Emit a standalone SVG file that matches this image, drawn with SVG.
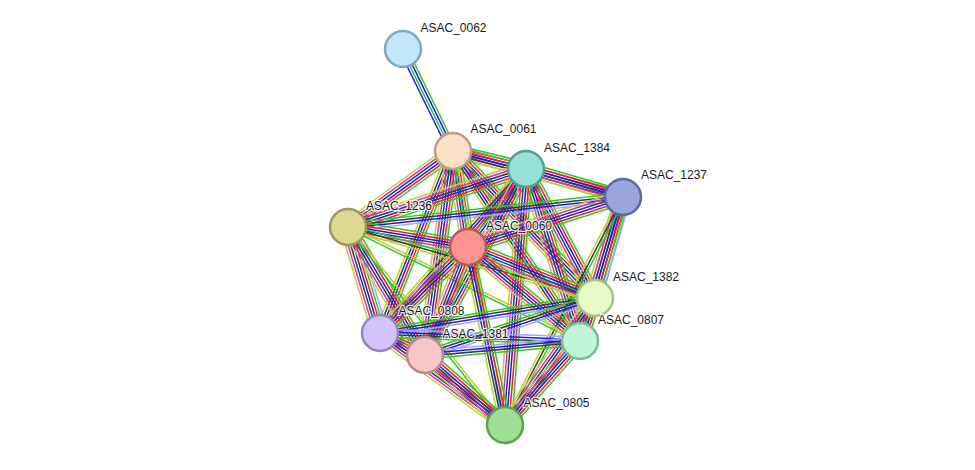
<svg xmlns="http://www.w3.org/2000/svg" width="975" height="470" viewBox="0 0 975 470">
<style>
.e line{stroke-width:1.5;fill:none}
.g{stroke:#33c433}.r{stroke:#ff1a1a}.b{stroke:#1a1aee}.k{stroke:#3a3a3a}.m{stroke:#cc33cc}.y{stroke:#bfce33}.l{stroke:#a3a3ff}
.n circle{stroke-width:2.5}
text{font-family:"Liberation Sans",Arial,sans-serif;font-size:12px;fill:#1a1a1a;stroke:#fff;stroke-width:2.5;stroke-opacity:0.85;paint-order:stroke;stroke-linejoin:round}
</style>
<defs>
<g id="AB" class="e"><line x1="0" y1="-3.9" x2="1" y2="-3.9" class="g"/><line x1="0" y1="-1.3" x2="1" y2="-1.3" class="b"/><line x1="0" y1="1.3" x2="1" y2="1.3" class="g"/><line x1="0" y1="3.9" x2="1" y2="3.9" class="b"/></g>
<g id="T7" class="e"><line x1="0" y1="-7.8" x2="1" y2="-7.8" class="l"/><line x1="0" y1="-5.2" x2="1" y2="-5.2" class="g"/><line x1="0" y1="-2.6" x2="1" y2="-2.6" class="r"/><line x1="0" y1="0" x2="1" y2="0" class="b"/><line x1="0" y1="2.6" x2="1" y2="2.6" class="k"/><line x1="0" y1="5.2" x2="1" y2="5.2" class="m"/><line x1="0" y1="7.8" x2="1" y2="7.8" class="y"/></g>
<g id="T6" class="e"><line x1="0" y1="-6.5" x2="1" y2="-6.5" class="g"/><line x1="0" y1="-3.9" x2="1" y2="-3.9" class="r"/><line x1="0" y1="-1.3" x2="1" y2="-1.3" class="b"/><line x1="0" y1="1.3" x2="1" y2="1.3" class="k"/><line x1="0" y1="3.9" x2="1" y2="3.9" class="m"/><line x1="0" y1="6.5" x2="1" y2="6.5" class="y"/></g>
<g id="T5" class="e"><line x1="0" y1="-5.2" x2="1" y2="-5.2" class="g"/><line x1="0" y1="-2.6" x2="1" y2="-2.6" class="r"/><line x1="0" y1="0" x2="1" y2="0" class="b"/><line x1="0" y1="2.6" x2="1" y2="2.6" class="k"/><line x1="0" y1="5.2" x2="1" y2="5.2" class="y"/></g>
<g id="T4h" class="e"><line x1="0" y1="-3.9" x2="1" y2="-3.9" class="l"/><line x1="0" y1="-1.3" x2="1" y2="-1.3" class="b"/><line x1="0" y1="1.3" x2="1" y2="1.3" class="k"/><line x1="0" y1="3.9" x2="1" y2="3.9" class="g"/></g>
<g id="T3" class="e"><line x1="0" y1="-2.6" x2="1" y2="-2.6" class="g"/><line x1="0" y1="0" x2="1" y2="0" class="k"/><line x1="0" y1="2.6" x2="1" y2="2.6" class="y"/></g>
<g id="T2" class="e"><line x1="0" y1="-1.3" x2="1" y2="-1.3" class="y"/><line x1="0" y1="1.3" x2="1" y2="1.3" class="g"/></g>
</defs>
<rect width="975" height="470" fill="#fff"/>
<g id="connectors">
<use href="#AB" transform="matrix(50,102,-0.898,0.440,403,49)"/>
<use href="#T6" transform="matrix(73,18,-0.239,0.971,453,151)"/>
<use href="#T5" transform="matrix(170,46,-0.261,0.965,453,151)"/>
<use href="#T6" transform="matrix(-105,76,-0.586,-0.810,453,151)"/>
<use href="#T6" transform="matrix(15,96,-0.988,0.154,453,151)"/>
<use href="#T6" transform="matrix(142,147,-0.719,0.695,453,151)"/>
<use href="#T5" transform="matrix(-73,182,-0.928,-0.372,453,151)"/>
<use href="#T6" transform="matrix(-28,204,-0.991,-0.136,453,151)"/>
<use href="#T5" transform="matrix(127,190,-0.831,0.556,453,151)"/>
<use href="#T2" transform="matrix(52,274,-0.982,0.186,453,151)"/>
<use href="#T6" transform="matrix(97,28,-0.277,0.961,526,169)"/>
<use href="#T6" transform="matrix(-178,58,-0.310,-0.951,526,169)"/>
<use href="#T6" transform="matrix(-58,78,-0.802,-0.597,526,169)"/>
<use href="#T6" transform="matrix(69,129,-0.882,0.472,526,169)"/>
<use href="#T5" transform="matrix(-146,164,-0.747,-0.665,526,169)"/>
<use href="#T6" transform="matrix(-101,186,-0.879,-0.477,526,169)"/>
<use href="#T6" transform="matrix(54,172,-0.954,0.300,526,169)"/>
<use href="#T6" transform="matrix(-21,256,-0.997,-0.082,526,169)"/>
<use href="#T4h" transform="matrix(-275,30,-0.108,-0.994,623,197)"/>
<use href="#T6" transform="matrix(-155,50,-0.307,-0.952,623,197)"/>
<use href="#T6" transform="matrix(-28,101,-0.964,-0.267,623,197)"/>
<use href="#T7" transform="matrix(-43,144,-0.958,-0.286,623,197)"/>
<use href="#T3" transform="matrix(-118,228,-0.888,-0.460,623,197)"/>
<use href="#T6" transform="matrix(120,20,-0.164,0.986,348,227)"/>
<use href="#T3" transform="matrix(247,71,-0.276,0.961,348,227)"/>
<use href="#T7" transform="matrix(32,106,-0.957,0.289,348,227)"/>
<use href="#T6" transform="matrix(77,128,-0.857,0.515,348,227)"/>
<use href="#T2" transform="matrix(232,114,-0.441,0.897,348,227)"/>
<use href="#T2" transform="matrix(157,198,-0.784,0.621,348,227)"/>
<use href="#T6" transform="matrix(127,51,-0.373,0.928,468,247)"/>
<use href="#T6" transform="matrix(-88,86,-0.699,-0.715,468,247)"/>
<use href="#T6" transform="matrix(-43,108,-0.929,-0.370,468,247)"/>
<use href="#T6" transform="matrix(112,94,-0.643,0.766,468,247)"/>
<use href="#T5" transform="matrix(37,178,-0.979,0.204,468,247)"/>
<use href="#T4h" transform="matrix(-215,35,-0.161,-0.987,595,298)"/>
<use href="#T4h" transform="matrix(-170,57,-0.318,-0.948,595,298)"/>
<use href="#T6" transform="matrix(-15,43,-0.945,-0.330,595,298)"/>
<use href="#T6" transform="matrix(-90,127,-0.816,-0.578,595,298)"/>
<use href="#T6" transform="matrix(45,22,-0.439,0.898,380,333)"/>
<use href="#T4h" transform="matrix(200,8,-0.040,0.999,380,333)"/>
<use href="#T6" transform="matrix(125,92,-0.593,0.805,380,333)"/>
<use href="#T4h" transform="matrix(155,-14,0.090,0.996,425,355)"/>
<use href="#T6" transform="matrix(80,70,-0.659,0.753,425,355)"/>
<use href="#T6" transform="matrix(-75,84,-0.746,-0.666,580,341)"/>
</g>
<g id="ASAC_0062" class="n"><circle cx="403" cy="49" r="18" fill="#c4e6fc" stroke="#80a8c0"/><text x="420.5" y="32">ASAC_0062</text></g>
<g id="ASAC_0061" class="n"><circle cx="453" cy="151" r="18" fill="#fde1c6" stroke="#bc9e80"/><text x="470.5" y="133">ASAC_0061</text></g>
<g id="ASAC_1384" class="n"><circle cx="526" cy="169" r="18" fill="#98dfd6" stroke="#5a9c94"/><text x="544" y="152">ASAC_1384</text></g>
<g id="ASAC_1237" class="n"><circle cx="623" cy="197" r="18" fill="#9aa5de" stroke="#5c67a3"/><text x="641" y="179">ASAC_1237</text></g>
<g id="ASAC_1236" class="n"><circle cx="348" cy="227" r="18" fill="#dcd993" stroke="#9c985a"/><text x="366" y="210">ASAC_1236</text></g>
<g id="ASAC_0060" class="n"><circle cx="468" cy="247" r="18" fill="#ff9494" stroke="#b85858"/><text x="486" y="230">ASAC_0060</text></g>
<g id="ASAC_1382" class="n"><circle cx="595" cy="298" r="18" fill="#e6fbc6" stroke="#a8c08a"/><text x="613" y="281">ASAC_1382</text></g>
<g id="ASAC_0808" class="n"><circle cx="380" cy="333" r="18" fill="#d2c5fb" stroke="#9684c0"/><text x="398.5" y="315">ASAC_0808</text></g>
<g id="ASAC_1381" class="n"><circle cx="425" cy="355" r="18" fill="#f7c6c6" stroke="#b88a8a"/><text x="442.5" y="338">ASAC_1381</text></g>
<g id="ASAC_0807" class="n"><circle cx="580" cy="341" r="18" fill="#bff6da" stroke="#80b89a"/><text x="598" y="324">ASAC_0807</text></g>
<g id="ASAC_0805" class="n"><circle cx="505" cy="425" r="18" fill="#a1de95" stroke="#5f9e58"/><text x="523.5" y="407">ASAC_0805</text></g>
</svg>
